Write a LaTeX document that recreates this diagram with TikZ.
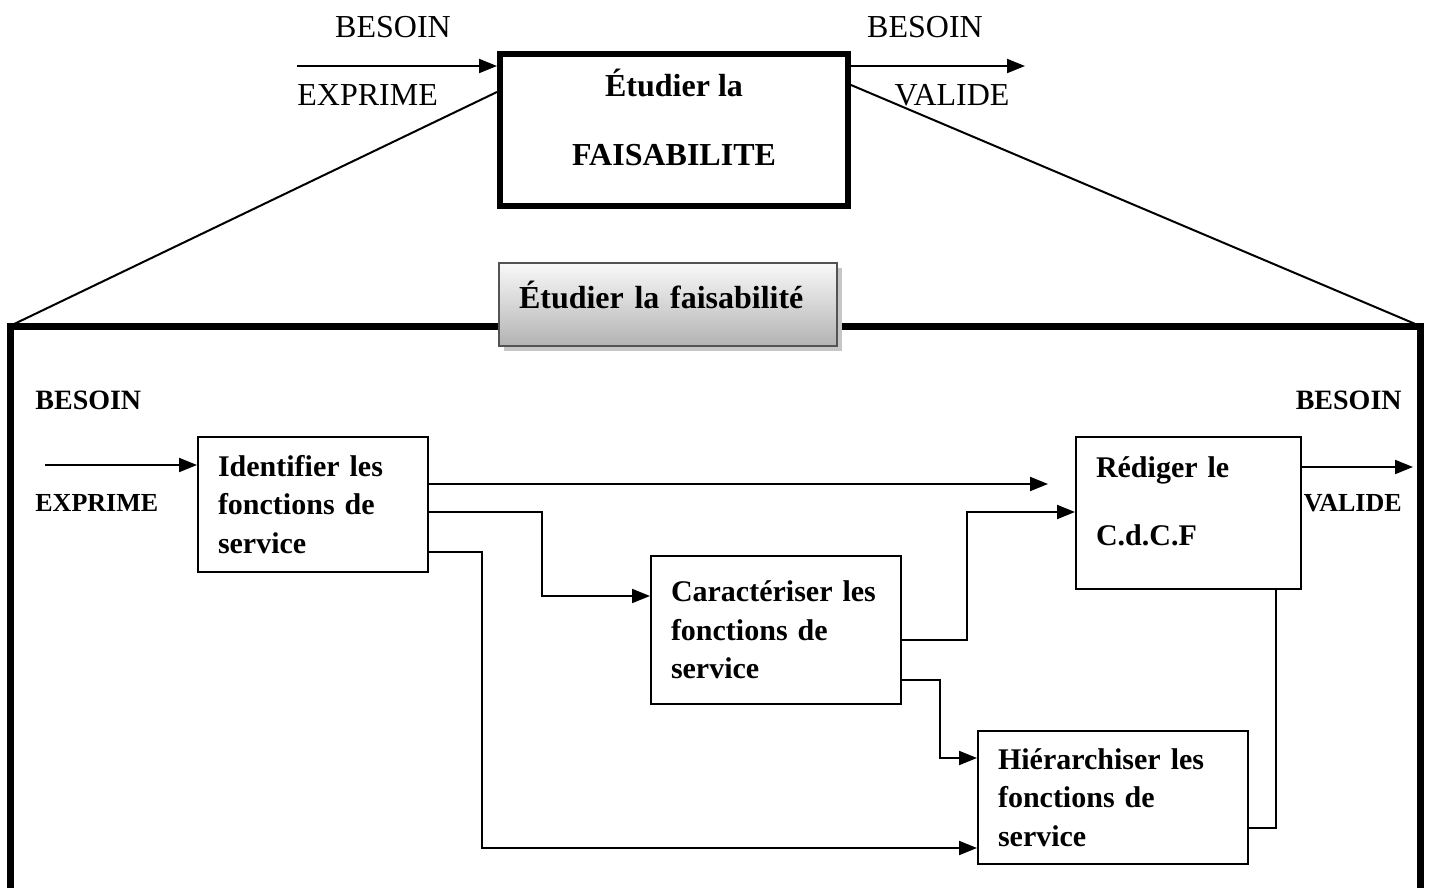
\documentclass[tikz,border=0pt]{standalone}
\usepackage{fontspec}
\setmainfont{Liberation Serif}
\usetikzlibrary{arrows.meta,positioning,shadows}
\tikzset{
  bloc/.style={draw, line width=1pt, anchor=north west, align=left,
    inner xsep=10pt, font=\bfseries\fontsize{15}{19.25}\selectfont},
  fleche/.style={line width=1pt, -{Triangle[length=9pt,width=7pt]}},
  lien/.style={line width=1pt},
  etiq/.style={inner sep=0pt, font=\fontsize{16}{19}\selectfont},
  etiqgras/.style={inner sep=0pt, font=\bfseries\fontsize{14}{17}\selectfont},
  etiqpetit/.style={inner sep=0pt, font=\bfseries\fontsize{13}{16}\selectfont},
}

\begin{document}
\begin{tikzpicture}[x=0.5pt, y=-0.5pt]
  \useasboundingbox (0,0) rectangle (1429,888);

  % niveau haut
  \node[draw, line width=3pt, anchor=north west, minimum width=174pt, minimum height=76pt,
    align=center, font=\bfseries\fontsize{16}{19.5}\selectfont] (haut) at (497,51)
    {Étudier la\\[15pt]FAISABILITE\\[-7pt]\mbox{}};
  \coordinate (entree) at (297,66);
  \coordinate (sortie) at (1025,66);
  \draw[fleche] (entree) -- ([yshift=-7.5pt]haut.north west);
  \draw[fleche] ([yshift=-7.5pt]haut.north east) -- (sortie);
  \node[etiq] (besoinE) at (393,27) {BESOIN};
  \node[etiq, anchor=west] (exprimeE) at (297,95) {EXPRIME};
  \node[etiq] (besoinS) at (925,27) {BESOIN};
  \node[etiq] (valideS) at (952,95) {VALIDE};

  % cadre de detail
  \coordinate (cadreNO) at (10,326);
  \coordinate (cadreNE) at (1420,326);
  \draw[line width=3.5pt] (10,900) -- (cadreNO) -- (cadreNE) -- (1420,900);
  \draw[lien] ([yshift=-20.5pt]haut.north west) -- (cadreNO);
  \draw[lien] ([yshift=-17pt]haut.north east) -- (cadreNE);

  \node[draw=gray!65!black, line width=1pt, top color=gray!5, bottom color=gray!60,
    drop shadow={shadow xshift=2.5pt, shadow yshift=-2.5pt, fill=gray!45, opacity=1},
    anchor=north west, minimum width=169pt, minimum height=41.5pt, text width=149pt,
    inner xsep=10pt, align=left, font=\bfseries\fontsize{16}{19}\selectfont] (titre) at (498,262)
    {\raisebox{10pt}{Étudier la faisabilité}};

  \node[etiqgras, anchor=west] (besoinG) at (35,400) {BESOIN};
  \node[etiqpetit, anchor=west] (exprimeG) at (35,503) {EXPRIME};
  \node[etiqgras, anchor=east] (besoinD) at (1402,400) {BESOIN};
  \node[etiqpetit, anchor=east] (valideD) at (1402,503) {VALIDE};

  \node[bloc, text width=95pt, minimum height=67.5pt] (ident) at (197,436)
    {Identifier les\\fonctions de\\service};
  \node[bloc, text width=105pt, minimum height=74pt] (caract) at (650,555)
    {Caractériser les\\fonctions de\\service};
  \node[bloc, text width=92.5pt, minimum height=76pt] (rediger) at (1075,436)
    {Rédiger le\\[14.75pt]C.d.C.F\\[-7pt]\mbox{}};
  \node[bloc, text width=115pt, minimum height=66.5pt] (hierar) at (977,730)
    {Hiérarchiser les\\fonctions de\\service};

  \coordinate (entreeG) at (45,465);
  \coordinate (sortieD) at (1413,467);
  \draw[fleche] (entreeG) -- ([yshift=-14.5pt]ident.north west);
  \draw[fleche] ([yshift=-15.5pt]rediger.north east) -- (sortieD);

  \draw[fleche] ([yshift=-24pt]ident.north east) -- ([yshift=-24pt,xshift=-13.5pt]rediger.north west);
  \draw[fleche] ([yshift=-38pt]ident.north east) -- ++(56.5pt,0) |- ([yshift=-20.5pt]caract.north west);
  \draw[fleche] ([yshift=-58pt]ident.north east) -- ++(26.5pt,0) |- ([yshift=-59pt]hierar.north west);
  \draw[fleche] ([yshift=-42.5pt]caract.north east) -- ++(32.5pt,0) |- ([yshift=-38pt]rediger.north west);
  \draw[fleche] ([yshift=-62.5pt]caract.north east) -- ++(19pt,0) |- ([yshift=-14pt]hierar.north west);
  \draw[lien] ([yshift=-49pt]hierar.north east) -| ([xshift=43.75pt]rediger.south);
\end{tikzpicture}
\end{document}
